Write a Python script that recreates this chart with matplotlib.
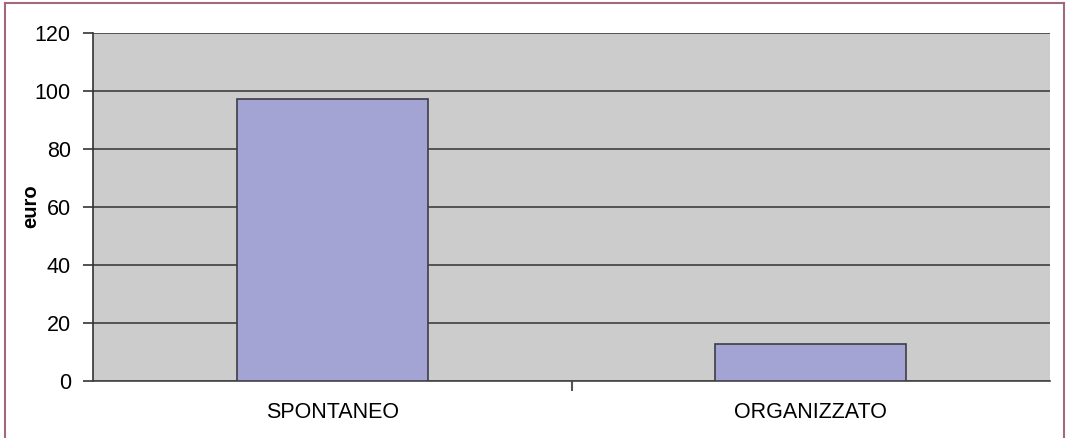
import matplotlib
matplotlib.use('Agg')
import matplotlib.pyplot as plt
from matplotlib.lines import Line2D

# data
categories = ['SPONTANEO', 'ORGANIZZATO']
values = [97.2, 12.8]
y_ticks = [0, 20, 40, 60, 80, 100, 120]

plt.rcParams['font.family'] = ['Liberation Sans', 'DejaVu Sans']

W, H = 1066, 438
fig = plt.figure(figsize=(W / 100, H / 100), dpi=100)
ax = fig.add_axes([93 / W, 1 - 381 / H, (1050 - 93) / W, (381 - 33) / H])

ax.set_facecolor('#cccccc')
x = list(range(len(categories)))
ax.bar(x, values, width=0.4, color='#a3a4d4', edgecolor='#3c3c46',
       linewidth=1.2, zorder=3)

ax.set_xlim(-0.5, len(categories) - 0.5)
ax.set_ylim(0, 120)
ax.set_yticks(y_ticks)
ax.set_yticklabels([str(t) for t in y_ticks], fontsize=15.5)
ax.tick_params(axis='y', length=7, width=1.2, color='#333333', pad=9)

ax.set_xticks(x)
ax.set_xticklabels(categories, fontsize=15.5)
ax.tick_params(axis='x', which='major', length=0, pad=15)
ax.set_xticks([0.5], minor=True)
ax.tick_params(axis='x', which='minor', length=7, width=1.5, color='#555555')

# gridlines
ax.yaxis.grid(True, color='#4a4a4a', linewidth=1.3, zorder=1)
ax.set_axisbelow(True)

for side in ['top', 'right']:
    ax.spines[side].set_visible(False)
ax.spines['left'].set_color('#333333')
ax.spines['left'].set_linewidth(1.2)
ax.spines['bottom'].set_color('#444444')
ax.spines['bottom'].set_linewidth(1.2)

# y label
fig.text(31 / W, 1 - 206 / H, 'euro', fontsize=14.5, fontweight='bold',
         rotation=90, ha='center', va='center')

# outer frame
frame_color = '#a06a7c'
fig.add_artist(Line2D([5 / W, 5 / W], [0, 1 - 3 / H], color=frame_color, linewidth=1.5))
fig.add_artist(Line2D([1064 / W, 1064 / W], [0, 1 - 3 / H], color=frame_color, linewidth=1.5))
fig.add_artist(Line2D([5 / W, 1064 / W], [1 - 3 / H, 1 - 3 / H], color=frame_color, linewidth=1.5))

fig.savefig('out.png', dpi=100)
